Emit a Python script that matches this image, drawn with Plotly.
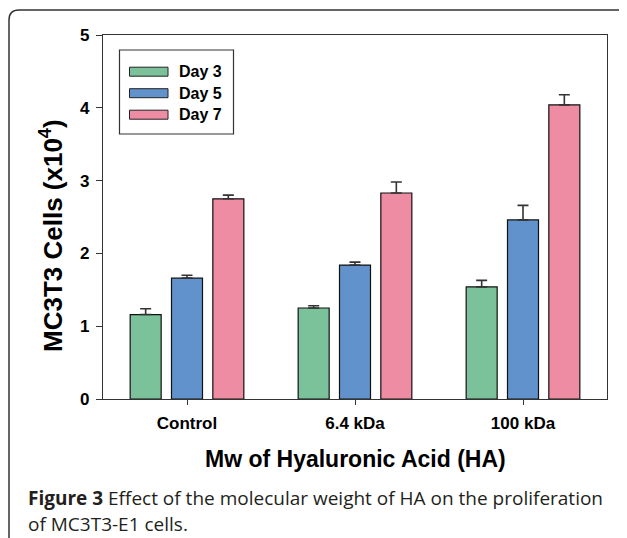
import plotly.graph_objects as go

categories = ["Control", "6.4 kDa", "100 kDa"]
series_names = ["Day 3", "Day 5", "Day 7"]
day3 = [1.16, 1.25, 1.54]
day5 = [1.66, 1.84, 2.46]
day7 = [2.75, 2.83, 4.04]
day3_err = [0.08, 0.03, 0.09]
day5_err = [0.04, 0.04, 0.20]
day7_err = [0.05, 0.15, 0.14]
colors = ["#7bc19a", "#6192cb", "#ee8ca3"]
y_ticks = [0, 1, 2, 3, 4, 5]

# page has an 8px body margin; figure is sized so it fills the 627x538 window
OFF = 8
W, H = 627 - OFF, 538 - OFF
ML, MR, MT, MB = 103 - OFF, 20, 35 - OFF, 139
PW, PH = W - ML - MR, H - MT - MB


def px(x):
    return (x - OFF - ML) / PW


def py(y):
    return (H - MB - (y - OFF)) / PH


BOLD = dict(family="Liberation Sans, Arial", color="black", weight="bold")

fig = go.Figure()
for name, vals, errs, col in zip(series_names, [day3, day5, day7],
                                 [day3_err, day5_err, day7_err], colors):
    fig.add_trace(go.Bar(
        x=categories, y=vals, name=name,
        marker=dict(color=col, line=dict(color="#111111", width=1.2)),
        error_y=dict(type="data", array=errs, arrayminus=[0] * len(errs),
                     symmetric=False, color="#333333", thickness=1.6, width=5.5),
        showlegend=False,
    ))

shapes = []
annotations = []

# legend box
shapes.append(dict(type="rect", xref="paper", yref="paper",
                   x0=px(119.5), x1=px(233.5), y0=py(134), y1=py(50),
                   line=dict(color="#333333", width=1.2), fillcolor="white"))
for i, (name, col) in enumerate(zip(series_names, colors)):
    cy = 71.7 + i * 21.5
    shapes.append(dict(type="rect", xref="paper", yref="paper",
                       x0=px(129.5), x1=px(168), y0=py(cy + 4.5), y1=py(cy - 4.5),
                       line=dict(color="#222222", width=1), fillcolor=col))
    annotations.append(dict(xref="paper", yref="paper", x=px(177), y=py(cy),
                            xanchor="left", yanchor="middle", showarrow=False,
                            text=name, font=dict(BOLD, size=16)))

# outer rounded frame
r = 10
x0f, x1f, y0f, y1f = 9, 627, 10, 545
path = ("M %f,%f L %f,%f Q %f,%f %f,%f L %f,%f Q %f,%f %f,%f L %f,%f" % (
    px(x0f), py(y1f), px(x0f), py(y0f + r), px(x0f), py(y0f), px(x0f + r), py(y0f),
    px(x1f - r), py(y0f), px(x1f), py(y0f), px(x1f), py(y0f + r), px(x1f), py(y1f)))
shapes.append(dict(type="path", xref="paper", yref="paper", path=path,
                   line=dict(color="#333333", width=1.5)))

# axis titles
annotations.append(dict(xref="paper", yref="paper", x=px(355), y=py(459),
                        xanchor="center", yanchor="middle", showarrow=False,
                        text="Mw of Hyaluronic Acid (HA)",
                        font=dict(BOLD, size=23)))
annotations.append(dict(xref="paper", yref="paper", x=px(51), y=py(236),
                        xanchor="center", yanchor="middle", showarrow=False,
                        textangle=-90,
                        text="MC3T3 Cells (x10<sup>4</sup>)",
                        font=dict(BOLD, size=26)))

# caption
CAP = dict(family="Open Sans", size=19, color="#231f20")
annotations.append(dict(xref="paper", yref="paper", x=px(26), y=py(498),
                        xanchor="left", yanchor="middle", showarrow=False,
                        text="<b>Figure 3</b> Effect of the molecular weight of HA on the proliferation",
                        font=CAP))
annotations.append(dict(xref="paper", yref="paper", x=px(26), y=py(524),
                        xanchor="left", yanchor="middle", showarrow=False,
                        text="of MC3T3-E1 cells.", font=CAP))

fig.update_layout(
    width=W, height=H,
    margin=dict(l=ML, r=MR, t=MT, b=MB),
    paper_bgcolor="white", plot_bgcolor="white",
    barmode="group", bargap=0.262, bargroupgap=0.25,
    shapes=shapes, annotations=annotations,
    font=dict(family="Liberation Sans, Arial", color="black"),
)
fig.update_xaxes(
    range=[-0.5, 2.5], showline=True, mirror=True, linecolor="#333333", linewidth=1.2,
    ticks="outside", ticklen=5, tickcolor="#333333", tickwidth=1.2,
    tickfont=dict(BOLD, size=17), showgrid=False, ticklabelstandoff=3,
)
fig.update_yaxes(
    range=[0, 5], tickvals=y_ticks, showline=True, mirror=True, linecolor="#333333",
    linewidth=1.2, ticks="outside", ticklen=6, tickcolor="#333333", tickwidth=1.2,
    tickfont=dict(BOLD, size=17), showgrid=False, zeroline=False, ticklabelstandoff=3,
)

fig.write_html("out.html")
